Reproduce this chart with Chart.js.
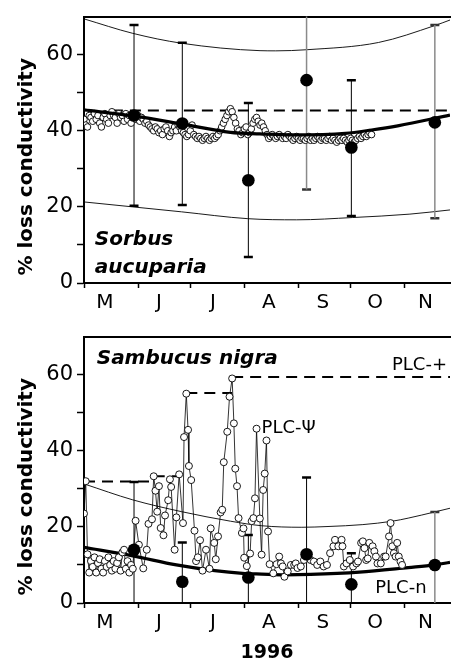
<!DOCTYPE html>
<html>
<head>
<meta charset="utf-8">
<script src="https://cdn.jsdelivr.net/npm/chart.js@4.4.0/dist/chart.umd.min.js"></script>
<style>
  body { margin: 0; background: #fff; }
  canvas { display: block; }
</style>
</head>
<body>
<canvas id="sorbusChart" width="457" height="320"></canvas>
<canvas id="sambucusChart" width="457" height="341"></canvas>
<script>
// x values are days counted from 1 May 1996
var monthStarts = [0, 31, 61, 92, 123, 153, 184];
var monthMid = [12, 43, 74, 106, 137, 167, 196];
var months = ['M', 'J', 'J', 'A', 'S', 'O', 'N'];
var yTicks = [0, 20, 40, 60];

// measured branches (filled dots with error bars), same dates in both panels
var sampleDays = [28.7, 56.4, 94.3, 127.7, 153.4, 201.3];

// Sorbus aucuparia
var sorbusMean = [44.0, 41.9, 27.0, 53.3, 35.6, 42.2];
var sorbusHi = [67.8, 63.1, 47.3, 74.0, 53.3, 67.8];
var sorbusLo = [20.3, 20.5, 6.8, 24.6, 17.6, 17.0];
var sorbusGrey = [3, 5];
// daily PLC-psi, one value per day from day 0
var sorbusPlc = [
  43.0, 41.5, 41.0, 44.0, 43.5, 42.5, 44.5, 43.0, 44.0, 42.0,
  41.0, 43.5, 44.5, 43.0, 42.0, 44.0, 45.0, 44.0, 43.5, 42.0,
  44.5, 43.5, 44.0, 42.5, 44.5, 43.0, 44.0, 42.0, 43.5, 44.5,
  43.0,
  44.0, 42.5, 43.5, 43.0, 42.0, 42.5, 41.5, 41.0, 40.5, 40.0,
  41.0, 40.5, 39.5, 40.0, 39.0, 40.5, 41.0, 40.0, 38.5, 39.5,
  40.0, 41.0, 40.0, 41.5, 41.0, 40.0, 39.5, 39.0, 38.5, 39.0,
  40.0, 41.5, 39.0, 38.5, 38.0, 38.5, 38.0, 37.5, 38.0, 38.5,
  38.0, 37.5, 38.0, 38.5, 38.0, 38.5, 39.0, 40.0, 41.0, 42.0,
  43.0, 44.0, 45.0, 45.8, 45.0, 43.5, 42.0, 40.5, 40.0, 39.0, 39.5,
  40.5, 41.0, 39.0, 39.5, 40.5, 42.0, 43.0, 43.5, 42.5, 41.5,
  42.0, 41.0, 40.0, 39.0, 38.0, 38.5, 39.0, 38.5, 38.0, 38.5,
  39.0, 38.5, 38.0, 38.5, 38.0, 39.0, 38.5, 38.0, 37.5, 38.0, 38.5,
  38.0, 37.5, 38.0, 38.0, 37.5, 38.0, 38.5, 37.5, 38.0, 37.5,
  38.0, 38.5, 38.0, 37.5, 38.0, 38.0, 37.5, 38.0, 38.5, 37.5,
  38.0, 37.5, 37.0, 37.5, 38.0, 37.5, 38.0, 37.5, 37.0, 37.5,
  38.0, 37.5, 37.0, 37.5, 38.0, 38.5, 38.0, 38.5, 39.0, 38.5, 39.0, 39.5, 39.0
];
var sorbusFitDays = [0, 28, 56, 84, 101, 120, 150, 165, 180, 210];
var sorbusFit = [45.5, 43.9, 41.8, 39.6, 39.2, 38.9, 39.3, 40.2, 41.3, 44.1];
var sorbusUpDays = [0, 28, 56, 101, 110, 128, 169, 201, 210];
var sorbusUp = [69.4, 65.6, 63.0, 61.05, 61.0, 61.3, 63.2, 67.6, 69.1];
var sorbusLowDays = [0, 28, 56, 94, 122, 154, 187, 210];
var sorbusLow = [21.3, 20.0, 18.7, 16.9, 16.6, 17.2, 18.1, 19.2];
var sorbusMaxDays = [16, 210];
var sorbusMax = [45.3, 45.3];

// Sambucus nigra
var sambMean = [14.0, 5.6, 6.7, 12.8, 4.9, 10.0];
var sambHi = [31.8, 15.9, 17.9, 33.0, 13.1, 23.9];
var sambLo = [0, 0, 0, 0, 0, 0];
var sambGrey = [5];
var sambDays = [
  0, 1, 2, 3, 4, 5, 6, 7, 8, 9, 10, 11, 12, 13, 14, 15, 16, 17, 18, 19,
  20, 21, 22, 23, 24, 25, 26, 27, 28,
  29.6, 31.5, 34, 36, 37, 39, 40, 41, 42, 43, 44, 45.6, 46.5, 48.3, 49.3, 50,
  52, 53, 54.6, 56.8, 57.4, 58.7, 59.7, 60.2, 61.5, 63.4, 64.3, 65.3, 66.6, 68,
  70, 72, 72.7, 74.7, 75.6, 76.9, 78.4, 79.3, 80.2, 82.2, 83.5, 85, 86, 86.8,
  87.8, 88.7, 90.6, 91.5, 91.9, 93.4, 95.3, 96.2, 97.2, 98.1, 99, 100.9, 101.9,
  102.8, 103.7, 104.7, 105.6, 106.5, 108.6, 110.5, 112, 113, 114, 115, 116.9,
  118.7, 120.6, 121.5, 122.5, 124.4, 126.2, 128.1, 130, 131.9, 133.8, 135.6,
  137.5, 139.4, 141.2, 143.1, 144, 145.9, 147.8, 148.3, 149.1, 150.6, 152.5,
  154.4, 156.3, 157.2, 159, 160, 160.9, 161.9, 162.8, 163.7, 165.6, 166.6,
  167.5, 168.4, 170.3, 172.2, 173.1, 175, 175.9, 176.9, 177.8, 178.8, 179.7,
  180.6, 181.6, 182.5
];
var sambPlc = [
  23.5, 32.0, 12.8, 8.0, 11.0, 9.5, 12.0, 8.0, 10.5, 11.5, 9.0, 8.0, 11.0, 9.5,
  12.0, 10.0, 8.5, 11.0, 9.0, 10.5, 12.0, 8.5, 13.3, 14.0, 9.0, 11.0, 8.0, 10.0, 9.0,
  21.6, 15.3, 9.1, 14.0, 20.8, 22.0, 33.3, 29.5, 24.0, 30.7, 19.7, 17.8, 23.0, 27.0, 32.5, 30.5,
  14.0, 22.5, 33.8, 21.0, 43.6, 55.0, 45.5, 36.0, 32.3, 19.0, 11.0, 12.0, 16.5, 8.5,
  14.0, 9.0, 19.6, 15.8, 11.5, 17.5, 23.8, 24.5, 37.0, 45.0, 54.2, 59.0, 47.2, 35.3,
  30.7, 22.3, 18.4, 19.6, 11.9, 9.7, 13.0, 21.5, 22.3, 27.5, 45.8, 22.2, 12.7,
  29.7, 34.0, 42.7, 18.8, 10.2, 7.8, 10.2, 12.2, 10.4, 9.6, 6.9, 8.3,
  10.0, 10.0, 10.4, 9.2, 9.6, 11.3, 12.2, 11.3, 10.9, 10.0, 10.9,
  9.6, 10.0, 13.1, 14.9, 16.6, 14.9, 16.6, 14.9, 9.6, 10.4, 11.3,
  9.6, 10.4, 10.9, 15.8, 16.2, 14.4, 11.3, 11.7, 15.8, 14.9, 13.6,
  12.2, 10.4, 10.4, 12.2, 12.2, 17.5, 21.0, 14.9, 13.1, 12.2, 15.8,
  12.2, 10.9, 10.0
];
var sambFitDays = [0, 28, 53, 75, 91, 102, 115, 130, 158, 186, 201, 210];
var sambFit = [14.6, 12.4, 10.0, 8.5, 7.8, 7.6, 7.4, 7.5, 8.1, 9.3, 10.0, 10.7];
var sambUpDays = [0, 28, 56, 84, 102, 125, 140, 160, 177, 186, 201, 210];
var sambUp = [31.3, 27.1, 24.0, 21.5, 20.3, 19.9, 20.1, 20.6, 21.5, 22.3, 23.9, 24.9];
// running maximum (PLC+), one flat piece per level
var sambMaxFrom = [0, 40, 58.7, 85];
var sambMaxTo = [40, 54.6, 85, 210];
var sambMax = [31.9, 33.3, 55.2, 59.4];

var FONT = '"DejaVu Sans", sans-serif';

function xy(xs, ys) {
  return xs.map(function (x, i) { return {x: x, y: ys[i]}; });
}

function barLines(lo, hi, idx) {
  var pts = [];
  idx.forEach(function (i) {
    pts.push({x: sampleDays[i], y: lo[i]}, {x: sampleDays[i], y: hi[i]}, {x: sampleDays[i], y: null});
  });
  return pts;
}

function barCaps(lo, hi, idx) {
  var pts = [];
  idx.forEach(function (i) {
    pts.push({x: sampleDays[i], y: hi[i]});
    if (lo[i] > 0) pts.push({x: sampleDays[i], y: lo[i]});
  });
  return pts;
}

function split(grey) {
  var dark = [], light = [];
  sampleDays.forEach(function (d, i) { (grey.indexOf(i) >= 0 ? light : dark).push(i); });
  return [dark, light];
}

function notesPlugin(notes) {
  return {
    id: 'notes',
    afterDraw: function (chart) {
      var c = chart.ctx, sx = chart.scales.x, sy = chart.scales.y;
      c.save();
      c.fillStyle = '#000';
      notes.forEach(function (n) {
        c.font = n.font;
        c.textAlign = 'left';
        c.textBaseline = 'alphabetic';
        c.fillText(n.text, sx.getPixelForValue(n.x), sy.getPixelForValue(n.y));
      });
      // y axis title
      c.font = 'bold 20px ' + FONT;
      c.translate(32, (chart.chartArea.top + chart.chartArea.bottom) / 2 + 17);
      c.rotate(-Math.PI / 2);
      c.textAlign = 'center';
      c.fillText('% loss conductivity', 0, 0);
      c.restore();
    }
  };
}

function scales(withTitle) {
  var allTicks = monthStarts.concat(monthMid).sort(function (a, b) { return a - b; });
  return {
    x: {
      type: 'linear', min: 0, max: 210,
      afterBuildTicks: function (s) { s.ticks = allTicks.map(function (v) { return {value: v}; }); },
      afterFit: function (s) { s.height = withTitle ? 58 : 37; },
      border: {color: '#000', width: 2},
      grid: {
        drawOnChartArea: false, tickLength: 5, tickWidth: 1.5,
        tickColor: function (ctx) {
          return ctx.tick && monthStarts.indexOf(ctx.tick.value) >= 0 ? '#000' : 'rgba(0,0,0,0)';
        }
      },
      ticks: {
        autoSkip: false, maxRotation: 0, padding: 3, color: '#000',
        font: {family: FONT, size: 20},
        callback: function (v) { var i = monthMid.indexOf(v); return i >= 0 ? months[i] : ''; }
      },
      title: {
        display: withTitle, text: '1996', color: '#000',
        font: {family: FONT, size: 19, weight: 'bold', lineHeight: 0.85},
        padding: {top: 0, bottom: 0}
      }
    },
    xTop: {
      type: 'linear', position: 'top', min: 0, max: 210,
      afterBuildTicks: function (s) { s.ticks = []; },
      afterFit: function (s) { s.height = 0; },
      border: {color: '#000', width: 2},
      grid: {drawOnChartArea: false, drawTicks: false},
      ticks: {display: false}
    },
    y: {
      min: 0, max: 70,
      afterBuildTicks: function (s) {
        s.ticks = [0, 10, 20, 30, 40, 50, 60].map(function (v) { return {value: v}; });
      },
      afterFit: function (s) { s.width = 84; },
      border: {color: '#000', width: 2},
      grid: {drawOnChartArea: false, tickLength: 7, tickWidth: 1.5, tickColor: '#000'},
      ticks: {
        padding: 4, color: '#000', font: {family: FONT, size: 21},
        callback: function (v) { return yTicks.indexOf(v) >= 0 ? v : ''; }
      }
    }
  };
}

function baseOptions(withTitle) {
  return {
    responsive: false,
    animation: false,
    layout: {padding: {top: 16, right: 0, bottom: 0, left: 0}},
    plugins: {legend: {display: false}, tooltip: {enabled: false}},
    scales: scales(withTitle)
  };
}

function commonSets(mean, lo, hi, grey, fitDays, fit, circles) {
  var parts = split(grey);
  var sets = [
    {data: xy(sampleDays, mean), pointRadius: 6.3, pointBackgroundColor: '#000', pointBorderColor: '#000', pointBorderWidth: 0},
    {data: xy(fitDays, fit), showLine: true, borderColor: '#000', borderWidth: 3.2, pointRadius: 0, cubicInterpolationMode: 'monotone'}
  ];
  sets.push(circles);
  sets.push(
    {data: barLines(lo, hi, parts[0]), showLine: true, spanGaps: false, borderColor: '#000', borderWidth: 1, pointRadius: 0},
    {data: barLines(lo, hi, parts[1]), showLine: true, spanGaps: false, borderColor: '#8a8a8a', borderWidth: 1.5, pointRadius: 0},
    {data: barCaps(lo, hi, parts[0]), pointStyle: 'line', pointRadius: 4.5, pointBorderColor: '#000', pointBorderWidth: 2.5},
    {data: barCaps(lo, hi, parts[1]), pointStyle: 'line', pointRadius: 4.5, pointBorderColor: '#333', pointBorderWidth: 2.5}
  );
  return sets;
}

// ---- top panel: Sorbus aucuparia
var sorbusDaysList = sorbusPlc.map(function (v, i) { return i; });
var sorbusSets = commonSets(sorbusMean, sorbusLo, sorbusHi, sorbusGrey, sorbusFitDays, sorbusFit,
  {data: xy(sorbusDaysList, sorbusPlc), pointRadius: 3.3, pointBackgroundColor: '#fff', pointBorderColor: '#000', pointBorderWidth: 0.9});
sorbusSets.push(
  {data: xy(sorbusMaxDays, sorbusMax), showLine: true, borderColor: '#000', borderWidth: 2, borderDash: [11, 7], pointRadius: 0},
  {data: xy(sorbusUpDays, sorbusUp), showLine: true, borderColor: '#000', borderWidth: 0.9, pointRadius: 0, cubicInterpolationMode: 'monotone'},
  {data: xy(sorbusLowDays, sorbusLow), showLine: true, borderColor: '#000', borderWidth: 0.9, pointRadius: 0, cubicInterpolationMode: 'monotone'}
);

new Chart(document.getElementById('sorbusChart'), {
  type: 'scatter',
  data: {datasets: sorbusSets},
  options: baseOptions(false),
  plugins: [notesPlugin([
    {text: 'Sorbus', x: 6.2, y: 9.9, font: 'italic bold 20px ' + FONT},
    {text: 'aucuparia', x: 6.2, y: 2.55, font: 'italic bold 20px ' + FONT}
  ])]
});

// ---- bottom panel: Sambucus nigra
var sambMaxPts = [];
sambMax.forEach(function (v, i) {
  sambMaxPts.push({x: sambMaxFrom[i], y: v}, {x: sambMaxTo[i], y: v}, {x: sambMaxTo[i], y: null});
});
var sambSets = commonSets(sambMean, sambLo, sambHi, sambGrey, sambFitDays, sambFit,
  {data: xy(sambDays, sambPlc), showLine: true, borderColor: '#000', borderWidth: 0.8, pointRadius: 3.5,
   pointBackgroundColor: '#fff', pointBorderColor: '#000', pointBorderWidth: 0.9});
// circles sit above the fitted curve here
var fitSet = sambSets.splice(1, 1)[0];
sambSets.splice(2, 0, fitSet);
sambSets.push(
  {data: sambMaxPts, showLine: true, spanGaps: false, borderColor: '#000', borderWidth: 2, borderDash: [11, 7], pointRadius: 0},
  {data: xy(sambUpDays, sambUp), showLine: true, borderColor: '#000', borderWidth: 0.9, pointRadius: 0, cubicInterpolationMode: 'monotone'}
);

new Chart(document.getElementById('sambucusChart'), {
  type: 'scatter',
  data: {datasets: sambSets},
  options: baseOptions(true),
  plugins: [notesPlugin([
    {text: 'Sambucus nigra', x: 7.3, y: 62.9, font: 'italic bold 20px ' + FONT},
    {text: 'PLC-+', x: 176.7, y: 61.3, font: '18px ' + FONT},
    {text: 'PLC-\u03A8', x: 101.9, y: 44.7, font: '18px ' + FONT},
    {text: 'PLC-n', x: 167.1, y: 2.6, font: '18px ' + FONT}
  ])]
});
</script>
</body>
</html>
